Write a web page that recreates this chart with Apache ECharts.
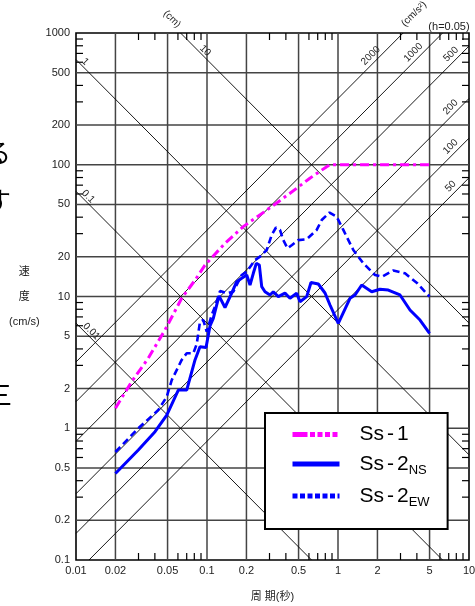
<!DOCTYPE html>
<html><head><meta charset="utf-8">
<script src="https://cdn.jsdelivr.net/npm/echarts@6/dist/echarts.min.js"></script>
<style>html,body{margin:0;padding:0;background:#fff}#c{width:475px;height:606px}</style>
</head><body><div id="c"></div>
<script>
// ---- axis values ----
const xTickLabels = [0.01, 0.02, 0.05, 0.1, 0.2, 0.5, 1, 2, 5, 10];
const yTickLabels = [0.1, 0.2, 0.5, 1, 2, 5, 10, 20, 50, 100, 200, 500, 1000];
const xGridValues = [0.02, 0.05, 0.1, 0.2, 0.5, 1, 2, 5];
const yGridValues = [0.2, 0.5, 1, 2, 5, 10, 20, 50, 100, 200, 500];
const xMinorTicks = [0.03, 0.04, 0.06, 0.07, 0.08, 0.09, 0.3, 0.4, 0.6, 0.7, 0.8, 0.9, 3, 4, 6, 7, 8, 9];
const yMinorTicks = [0.3, 0.4, 0.6, 0.7, 0.8, 0.9, 3, 4, 6, 7, 8, 9, 30, 40, 60, 70, 80, 90, 300, 400, 600, 700, 800, 900];

// ---- tripartite lines ----
const dispLines = [0.01, 0.1, 1, 10];            // displacement (cm)
const dispLabelPeriods = [0.0123, 0.01165, 0.01105, 0.091];
const dispLabelTexts = ['0.01', '0.1', '1', '10'];
const accLines = [50, 100, 200, 500, 1000, 2000]; // acceleration (cm/s2)
const accLabelPeriods = [7.9, 7.9, 7.9, 7.95, 4.1, 1.94];
const accLabelTexts = ['50', '100', '200', '500', '1000', '2000'];

// ---- spectra ----
const periodSs1 = [0.02, 0.0266, 0.0356, 0.0478, 0.0641, 0.081, 0.0965, 0.137, 0.189, 0.286, 0.43, 0.61, 0.82, 0.87, 5.0];
const velSs1    = [1.42, 2.26, 3.40, 5.57, 9.7, 13.3, 17.3, 25.3, 33.9, 45.3, 60.7, 79, 96.7, 100, 100];

const periodNS = [0.02, 0.0299, 0.0401, 0.0493, 0.0604, 0.070, 0.081, 0.0884, 0.0983, 0.1054, 0.1117, 0.1235, 0.1372, 0.1544, 0.1685, 0.184, 0.201, 0.213, 0.2257, 0.2379, 0.2508, 0.2616, 0.2772, 0.3027, 0.3207, 0.3502, 0.3938, 0.4301, 0.4838, 0.5127, 0.5768, 0.6222, 0.7073, 0.796, 0.869, 1.005, 1.235, 1.349, 1.517, 1.809, 2.093, 2.421, 2.974, 3.545, 4.227, 5.0];
const velNS    = [0.453, 0.684, 0.941, 1.26, 1.95, 1.95, 3.30, 4.16, 4.10, 5.97, 6.83, 10.1, 8.25, 10.6, 12.95, 13.75, 14.56, 12.23, 15.0, 17.86, 17.34, 11.87, 10.87, 10.27, 10.87, 9.97, 10.6, 9.69, 10.6, 9.13, 9.97, 12.77, 12.44, 10.63, 8.62, 6.26, 9.69, 10.27, 12.23, 10.87, 11.34, 11.2, 10.27, 7.9, 6.63, 5.26];

const periodEW = [0.02, 0.0299, 0.0425, 0.0493, 0.0538, 0.0641, 0.070, 0.0786, 0.0835, 0.0884, 0.0937, 0.0995, 0.1086, 0.1151, 0.1257, 0.1414, 0.1588, 0.184, 0.201, 0.2325, 0.2538, 0.2856, 0.3118, 0.3363, 0.3607, 0.3823, 0.4117, 0.4457, 0.4977, 0.5768, 0.6879, 0.751, 0.8614, 0.9775, 1.098, 1.309, 1.561, 1.917, 2.167, 2.643, 3.247, 4.01, 5.0];
const velEW    = [0.66, 1.0, 1.375, 1.736, 2.32, 3.30, 3.71, 3.71, 4.36, 6.44, 6.63, 5.40, 7.24, 8.37, 11.0, 10.6, 10.87, 14.56, 15.43, 18.92, 20.05, 22.54, 29.3, 33.4, 32.0, 26.8, 23.2, 24.6, 26.8, 27.2, 32.0, 38.1, 43.4, 40.3, 32.0, 22.54, 17.86, 14.56, 14.13, 15.75, 15.0, 12.66, 9.97];

const FONT = '"Liberation Sans", Arial, "Noto Sans CJK JP", sans-serif';
const CJK = '"Noto Sans CJK JP", sans-serif';
const TWO_PI = 2 * Math.PI;
const Xmin = 0.01, Xmax = 10, Ymin = 0.1, Ymax = 1000;

function dispSegment(D) {
  const t1 = Math.max(Xmin, TWO_PI * D / Ymax), t2 = Math.min(Xmax, TWO_PI * D / Ymin);
  return [[t1, TWO_PI * D / t1], [t2, TWO_PI * D / t2]];
}
function accSegment(A) {
  const t1 = Math.max(Xmin, TWO_PI * Ymin / A), t2 = Math.min(Xmax, TWO_PI * Ymax / A);
  return [[t1, A * t1 / TWO_PI], [t2, A * t2 / TWO_PI]];
}
const fmt = v => String(+(+v).toPrecision(3));

const series = [];
// grid lines (1-2-5)
const gridData = xGridValues.map(v => [v, 1, 0]).concat(yGridValues.map(v => [1, v, 1]));
series.push({
  type: 'custom', coordinateSystem: 'cartesian2d', silent: true, z: 0, animation: false,
  encode: { x: 0, y: 1 }, data: gridData,
  renderItem(params, api) {
    const kind = api.value(2);
    let a, b;
    if (kind === 0) { a = api.coord([api.value(0), Ymin]); b = api.coord([api.value(0), Ymax]); }
    else { a = api.coord([Xmin, api.value(1)]); b = api.coord([Xmax, api.value(1)]); }
    return { type: 'line', shape: { x1: a[0], y1: a[1], x2: b[0], y2: b[1] }, style: { stroke: '#444', lineWidth: 1.5 } };
  }
});
// minor ticks on all four sides
const tickData = [];
xMinorTicks.forEach(v => { tickData.push([v, Ymin, 0]); tickData.push([v, Ymax, 1]); });
yMinorTicks.forEach(v => { tickData.push([Xmin, v, 2]); tickData.push([Xmax, v, 3]); });
series.push({
  type: 'custom', coordinateSystem: 'cartesian2d', silent: true, z: 3, animation: false,
  encode: { x: 0, y: 1 }, data: tickData,
  renderItem(params, api) {
    const p = api.coord([api.value(0), api.value(1)]);
    const dir = api.value(2), L = 7;
    let x2 = p[0], y2 = p[1];
    if (dir === 0) y2 -= L; else if (dir === 1) y2 += L; else if (dir === 2) x2 += L; else x2 -= L;
    return { type: 'line', shape: { x1: p[0], y1: p[1], x2: x2, y2: y2 }, style: { stroke: '#000', lineWidth: 1.2 } };
  }
});
// diagonal lines
dispLines.forEach(D => series.push({ name: 'D' + D, type: 'line', data: dispSegment(D), symbol: 'none', silent: true, z: 1, animation: false, lineStyle: { color: '#000', width: 0.9 } }));
accLines.forEach(A => series.push({ name: 'A' + A, type: 'line', data: accSegment(A), symbol: 'none', silent: true, z: 1, animation: false, lineStyle: { color: '#000', width: 0.9 } }));
// diagonal labels
const diagLabelData = dispLines.map((D, i) => [dispLabelPeriods[i], TWO_PI * D / dispLabelPeriods[i], 0, i])
  .concat(accLines.map((A, i) => [accLabelPeriods[i], A * accLabelPeriods[i] / TWO_PI, 1, i]));
series.push({
  type: 'custom', coordinateSystem: 'cartesian2d', silent: true, z: 3, animation: false,
  encode: { x: 0, y: 1 }, data: diagLabelData,
  renderItem(params, api) {
    const p = api.coord([api.value(0), api.value(1)]);
    const kind = api.value(2), idx = api.value(3);
    const s = Math.SQRT1_2;
    const d = kind === 0 ? 5 : 7;
    const nx = kind === 0 ? s : -s, ny = -s;
    return {
      type: 'text', x: p[0] + nx * d, y: p[1] + ny * d, rotation: kind === 0 ? -Math.PI / 4 : Math.PI / 4,
      style: { text: kind === 0 ? dispLabelTexts[idx] : accLabelTexts[idx], textAlign: 'center', textVerticalAlign: 'middle', fontSize: 10, fontFamily: FONT, fill: '#222' }
    };
  }
});
// spectra
series.push({ name: 'Ss-1', type: 'line', z: 6, animation: false, symbol: 'none',
  data: periodSs1.map((t, i) => [t, velSs1[i]]),
  itemStyle: { color: '#ff00ff' }, lineStyle: { color: '#ff00ff', width: 3, type: [9, 4, 3, 4] } });
series.push({ name: 'Ss-2NS', type: 'line', z: 5, animation: false, symbol: 'none',
  data: periodNS.map((t, i) => [t, velNS[i]]),
  itemStyle: { color: '#0000ff' }, lineStyle: { color: '#0000ff', width: 3 } });
series.push({ name: 'Ss-2EW', type: 'line', z: 5, animation: false, symbol: 'none',
  data: periodEW.map((t, i) => [t, velEW[i]]),
  itemStyle: { color: '#0000ff' }, lineStyle: { color: '#0000ff', width: 2.6, type: [7, 4] } });

const chart = echarts.init(document.getElementById('c'), null, { renderer: 'canvas', width: 475, height: 606 });
chart.setOption({
  animation: false,
  backgroundColor: '#fff',
  grid: { left: 76, right: 6, top: 33, bottom: 46, show: true, borderColor: '#000', borderWidth: 1.6, backgroundColor: 'transparent', containLabel: false, outerBoundsMode: 'none' },
  xAxis: {
    type: 'log', logBase: 10, min: Xmin, max: Xmax,
    name: '周 期(秒)', nameLocation: 'middle', nameGap: 31,
    nameTextStyle: { fontSize: 11, fontFamily: FONT, color: '#222' },
    axisLine: { show: false }, axisTick: { show: false }, splitLine: { show: false }, minorTick: { show: false },
    axisLabel: { customValues: xTickLabels, formatter: fmt, fontSize: 11, fontFamily: FONT, color: '#222', margin: 5, showMinLabel: true, showMaxLabel: true, hideOverlap: false }
  },
  yAxis: {
    type: 'log', logBase: 10, min: Ymin, max: Ymax,
    name: '速\n度\n(cm/s)', nameLocation: 'middle', nameGap: 46, nameRotate: 0,
    nameTextStyle: { fontSize: 11, fontFamily: FONT, color: '#222', lineHeight: 25, align: 'center', verticalAlign: 'middle' },
    axisLine: { show: false }, axisTick: { show: false }, splitLine: { show: false }, minorTick: { show: false },
    axisLabel: { customValues: yTickLabels, formatter: fmt, fontSize: 11, fontFamily: FONT, color: '#222', margin: 6, showMinLabel: true, showMaxLabel: true, hideOverlap: false }
  },
  legend: {
    data: [
      { name: 'Ss-1', lineStyle: { width: 5, type: [15, 2.5, 5, 2.5, 5, 2.5, 5, 2.5, 5, 30] } },
      { name: 'Ss-2NS', lineStyle: { width: 5, type: 'solid' } },
      { name: 'Ss-2EW', lineStyle: { width: 5, type: [5, 2.5] } }
    ],
    orient: 'vertical', left: 265, top: 413, itemWidth: 47, itemHeight: 14, itemGap: 8.5,
    padding: [11, 18, 20, 25], backgroundColor: '#fff', borderColor: '#000', borderWidth: 2, borderRadius: 0,
    selectedMode: false, z: 10,
    itemStyle: { opacity: 0 },
    formatter: n => n === 'Ss-1' ? '{a|Ss}{d|-}{m|1}' : '{a|Ss}{d|-}{m|2}{s|' + n.slice(4) + '}',
    textStyle: { rich: {
      a: { fontSize: 21, fontFamily: FONT, color: '#000', lineHeight: 26, padding: [0, 0, 0, 15] },
      d: { fontSize: 21, fontFamily: FONT, color: '#000', lineHeight: 26, padding: [0, 3, 0, 3] },
      m: { fontSize: 21, fontFamily: FONT, color: '#000', lineHeight: 26 },
      s: { fontSize: 13, fontFamily: FONT, color: '#000', lineHeight: 12, verticalAlign: 'bottom' }
    } }
  },
  graphic: [
    { type: 'text', x: 172, y: 19, rotation: -Math.PI / 4, silent: true, style: { text: '(cm)', textAlign: 'center', textVerticalAlign: 'middle', fontSize: 10, fontFamily: FONT, fill: '#222' } },
    { type: 'text', x: 414, y: 14, rotation: Math.PI / 4, silent: true, style: { text: '(cm/s²)', textAlign: 'center', textVerticalAlign: 'middle', fontSize: 10, fontFamily: FONT, fill: '#222' } },
    { type: 'text', x: 449, y: 26.5, silent: true, style: { text: '(h=0.05)', textAlign: 'center', textVerticalAlign: 'middle', fontSize: 11, fontFamily: FONT, fill: '#222' } },
    { type: 'text', x: 11, y: 153, silent: true, style: { text: 'る', textAlign: 'right', textVerticalAlign: 'middle', fontSize: 26, fontFamily: CJK, fill: '#000' } },
    { type: 'text', x: 11, y: 201, silent: true, style: { text: 'す', textAlign: 'right', textVerticalAlign: 'middle', fontSize: 26, fontFamily: CJK, fill: '#000' } },
    { type: 'text', x: 12, y: 395, silent: true, style: { text: '三', textAlign: 'right', textVerticalAlign: 'middle', fontSize: 26, fontFamily: CJK, fill: '#000' } }
  ],
  series: series
});
</script></body></html>
